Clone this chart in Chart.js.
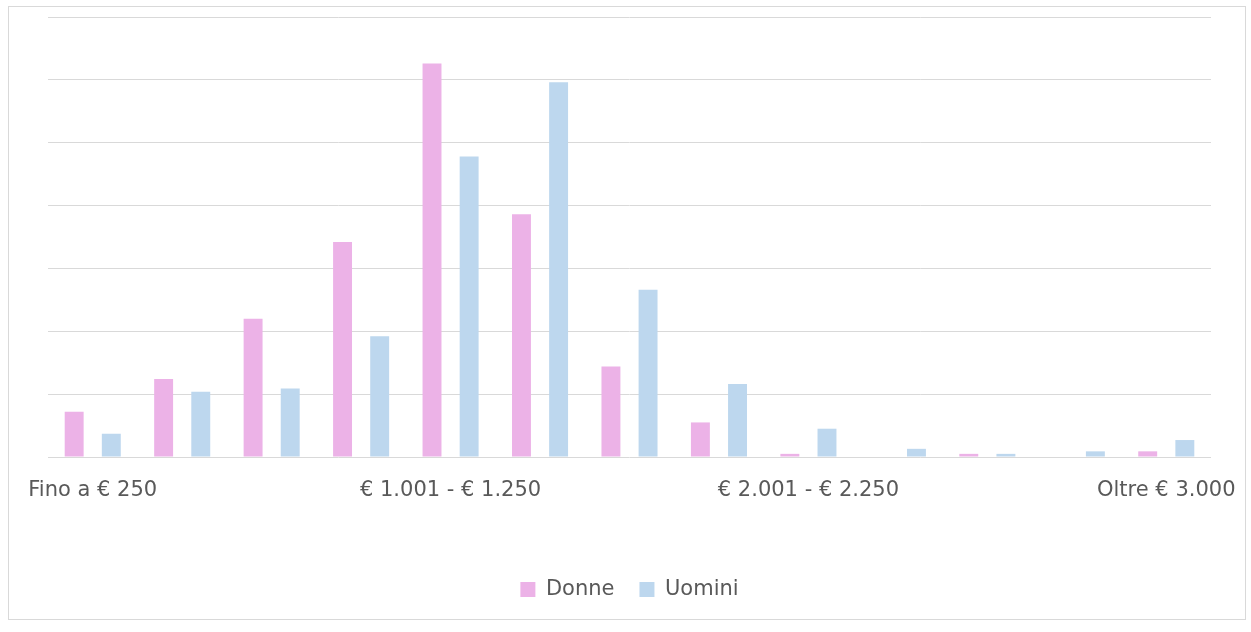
<!DOCTYPE html>
<html>
<head>
<meta charset="utf-8">
<script src="https://cdn.jsdelivr.net/npm/chart.js@4/dist/chart.umd.min.js"></script>
<style>
    html, body { margin: 0; padding: 0; background: #fff; }
    #wrap { position: relative; width: 1251px; height: 632px; }
    #frame {
        position: absolute; left: 8px; top: 6px; width: 1238px; height: 614px;
        border: 1px solid #d9d9d9; box-sizing: border-box; pointer-events: none;
    }
    canvas { position: absolute; left: 0; top: 0; }
</style>
</head>
<body>
<div id="wrap">
    <canvas id="incomeChart" width="1251" height="632"></canvas>
    <div id="frame"></div>
</div>
<script>
    const categories = [
        "Fino a € 250", "€ 251 - € 500", "€ 501 - € 750", "€ 751 - € 1.000",
        "€ 1.001 - € 1.250", "€ 1.251 - € 1.500", "€ 1.501 - € 1.750", "€ 1.751 - € 2.000",
        "€ 2.001 - € 2.250", "€ 2.251 - € 2.500", "€ 2.501 - € 2.750", "€ 2.751 - € 3.000",
        "Oltre € 3.000"
    ];
    const donne = [3.6, 6.2, 11.0, 17.1, 31.3, 19.3, 7.2, 2.75, 0.25, 0, 0.25, 0, 0.45];
    const uomini = [1.85, 5.2, 5.45, 9.6, 23.9, 29.8, 13.3, 5.8, 2.25, 0.65, 0.25, 0.45, 1.35];
    const shownLabels = [0, 4, 8, 12];

    const textColor = "#595959";
    const gridColor = "#d9d9d9";
    const font = { family: "DejaVu Sans", size: 21 };

    new Chart(document.getElementById("incomeChart"), {
        type: "bar",
        data: {
            labels: categories,
            datasets: [
                {
                    label: "Donne",
                    data: donne,
                    backgroundColor: "#ecb2e7",
                    categoryPercentage: 0.83,
                    barPercentage: 0.51
                },
                {
                    label: "Uomini",
                    data: uomini,
                    backgroundColor: "#bdd7ee",
                    categoryPercentage: 0.83,
                    barPercentage: 0.51
                }
            ]
        },
        options: {
            responsive: false,
            animation: false,
            layout: { padding: { left: 48, right: 40, top: 17, bottom: 22 } },
            plugins: {
                legend: {
                    position: "bottom",
                    labels: {
                        color: textColor,
                        font: font,
                        boxWidth: 15,
                        boxHeight: 15,
                        padding: 25
                    }
                },
                tooltip: { enabled: false }
            },
            scales: {
                x: {
                    // grid hidden, tick length only used to push labels down
                    grid: { display: false, drawTicks: true, tickLength: 19 },
                    border: { display: false },
                    ticks: {
                        autoSkip: false,
                        maxRotation: 0,
                        color: textColor,
                        font: font,
                        padding: 2,
                        callback: (v, i) => shownLabels.includes(i) ? categories[i] : ""
                    },
                    afterFit: s => { s.height = 97; }
                },
                y: {
                    min: 0,
                    max: 35,
                    ticks: { display: false, stepSize: 5 },
                    grid: { color: gridColor, lineWidth: 1, drawTicks: false },
                    border: { display: false },
                    afterFit: s => { s.width = 0; }
                }
            }
        }
    });
</script>
</body>
</html>
